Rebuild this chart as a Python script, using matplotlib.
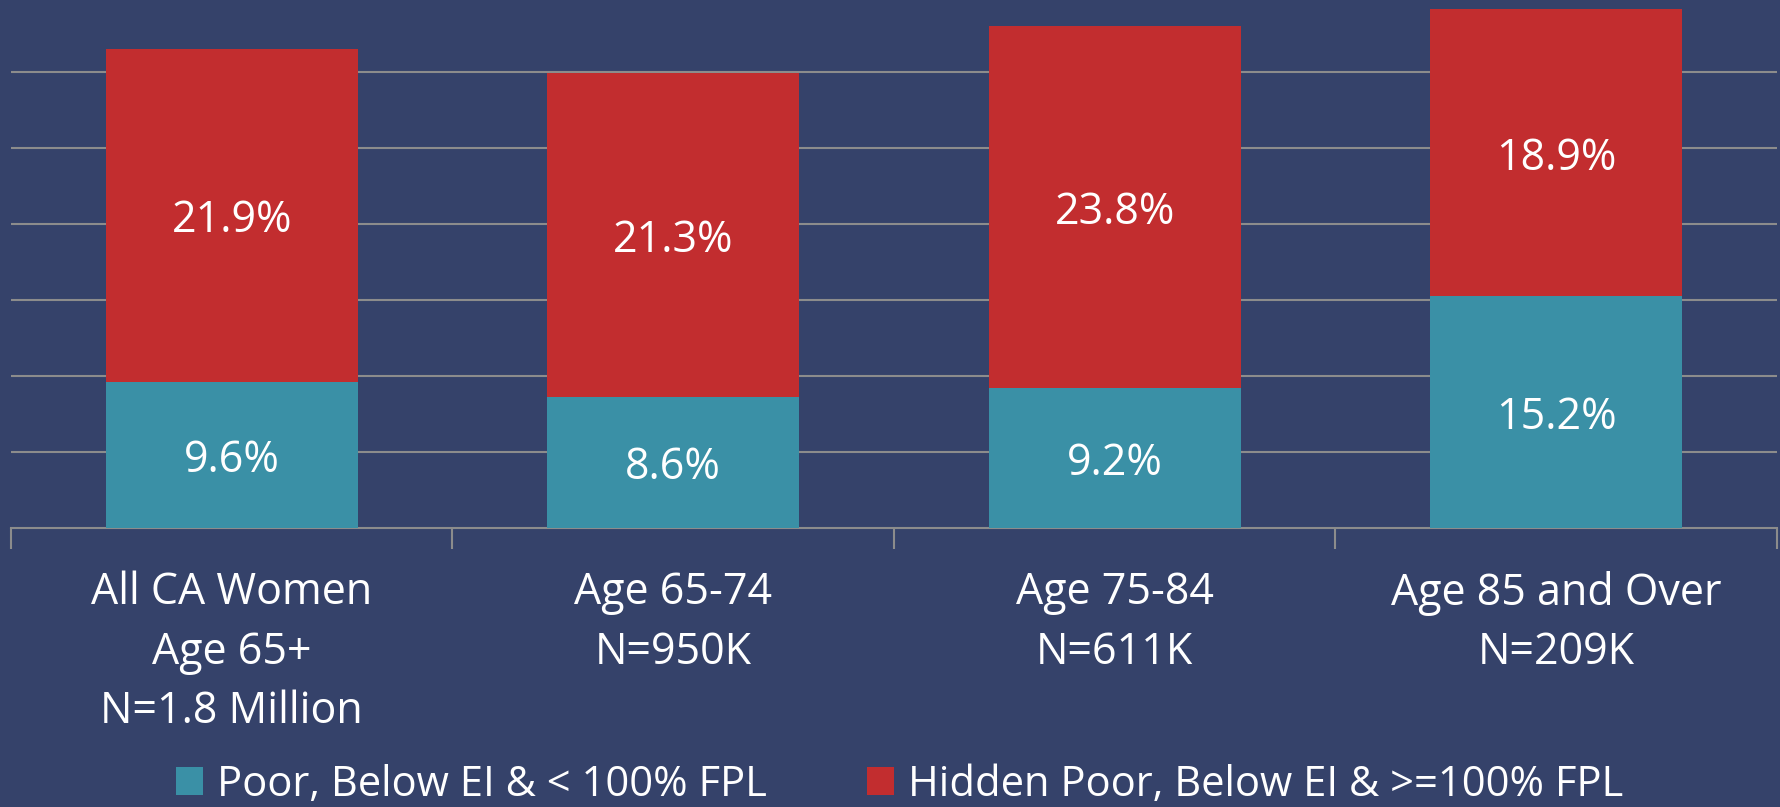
import matplotlib
matplotlib.use("Agg")
import matplotlib.pyplot as plt
from matplotlib.patches import Patch
import numpy as np

categories = ["All CA Women\nAge 65+\nN=1.8 Million", "Age 65-74\nN=950K",
              "Age 75-84\nN=611K", "Age 85 and Over\nN=209K"]
poor = [9.6, 8.6, 9.2, 15.2]
hidden_poor = [21.9, 21.3, 23.8, 18.9]
series_names = ["Poor, Below EI & < 100% FPL", "Hidden Poor, Below EI & >=100% FPL"]

BG = "#35426A"
TEAL = "#3A90A6"
RED = "#C22D2F"
GRID = "#8C8C8C"

plt.rcParams['font.family'] = ['Open Sans', 'DejaVu Sans']

W, H = 1781, 807
fig = plt.figure(figsize=(W / 100, H / 100), dpi=100, facecolor=BG)
ax_bottom = 527.5
ax = fig.add_axes([11 / W, 1 - ax_bottom / H, (1777 - 11) / W, ax_bottom / H])
ax.set_facecolor(BG)

x = np.arange(len(categories))
width = 0.57
ax.bar(x, poor, width, color=TEAL, zorder=3)
ax.bar(x, hidden_poor, width, bottom=poor, color=RED, zorder=3)

for xi, p, h in zip(x, poor, hidden_poor):
    for yc, v in ((p / 2, p), (p + h / 2, h)):
        ax.annotate(f"{v:.1f}%", xy=(xi, yc), xytext=(0, -6), textcoords="offset pixels",
                    ha="center", va="center", color="white", fontsize=31, zorder=4)

ax.set_xlim(-0.5, len(categories) - 0.5)
ax.set_ylim(0, ax_bottom / 15.2)
ax.set_yticks([5, 10, 15, 20, 25, 30])
ax.yaxis.grid(True, color=GRID, linewidth=1.5, zorder=0)
ax.tick_params(axis="y", length=0, labelleft=False)

ax.set_xticks(x)
ax.set_xticklabels(categories, color="white", fontsize=31, linespacing=1.45)
ax.tick_params(axis="x", length=0, pad=31)
ax.set_xticks(np.arange(len(categories) + 1) - 0.5, minor=True)
ax.tick_params(axis="x", which="minor", length=15, width=1.5, color=GRID)

for s in ["top", "right", "left"]:
    ax.spines[s].set_visible(False)
ax.spines["bottom"].set_color(GRID)
ax.spines["bottom"].set_linewidth(1.5)

handles = [Patch(facecolor=TEAL), Patch(facecolor=RED)]
fig.legend(handles, series_names, loc="center", bbox_to_anchor=(0.505, 1 - 785 / H),
           ncol=2, frameon=False, fontsize=30, labelcolor="white",
           handlelength=0.65, handleheight=0.65, handletextpad=0.33, columnspacing=2.4,
           borderpad=0)

fig.savefig("out.png", dpi=100, facecolor=BG)
